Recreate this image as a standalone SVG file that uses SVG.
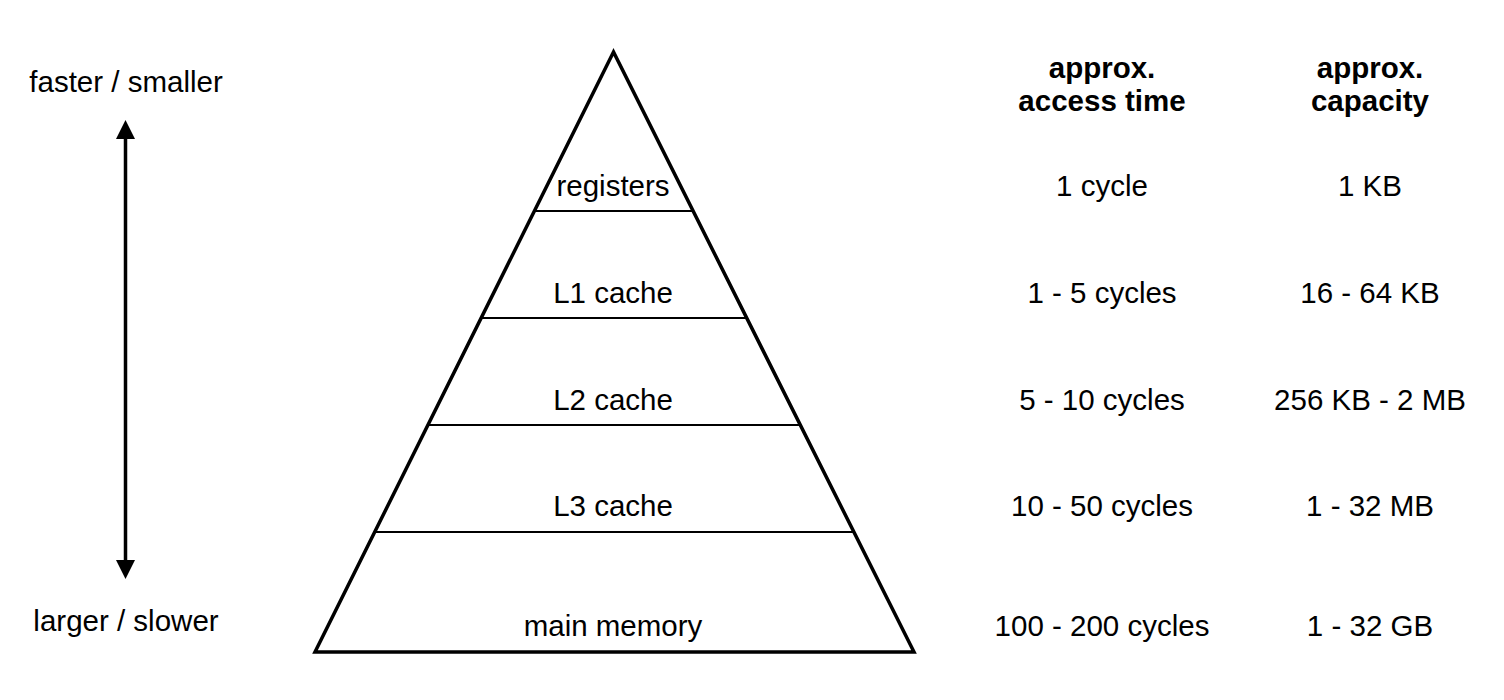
<svg xmlns="http://www.w3.org/2000/svg" width="1504" height="700" viewBox="0 0 1504 700">
<style>
  text { font-family: "Liberation Sans", Arial, Helvetica, sans-serif; font-size: 29.5px; fill: #000; text-anchor: middle; }
  .hdr { font-weight: bold; }
  .outline { fill: #fff; stroke: #000; stroke-width: 3.5; stroke-linejoin: miter; }
  .level { stroke: #000; stroke-width: 2; fill: none; }
  .arrow { stroke: #000; stroke-width: 3.5; fill: none; }
</style>
<defs>
  <marker id="ah" viewBox="0 0 19 19" refX="1" refY="9.5" markerWidth="19" markerHeight="19" markerUnits="userSpaceOnUse" orient="auto-start-reverse">
    <path d="M0,0 L19,9.5 L0,19 Z" fill="#000"/>
  </marker>
</defs>
<rect width="1504" height="700" fill="#fff"/>
<g id="pyramid">
  <polygon class="outline" points="613.5,52 315,652 914,652"/>
  <line class="level" x1="534" y1="211" x2="693" y2="211"/>
  <line class="level" x1="481" y1="318" x2="746" y2="318"/>
  <line class="level" x1="428" y1="425" x2="800" y2="425"/>
  <line class="level" x1="374.5" y1="532" x2="853.5" y2="532"/>
</g>
<g id="registers"><text x="613" y="196">registers</text></g>
<g id="l1"><text x="613" y="303">L1 cache</text></g>
<g id="l2"><text x="613" y="410">L2 cache</text></g>
<g id="l3"><text x="613" y="516">L3 cache</text></g>
<g id="main-memory"><text x="613" y="636">main memory</text></g>
<g id="col-access">
  <text class="hdr" x="1102" y="78">approx.</text>
  <text class="hdr" x="1102" y="111">access time</text>
  <text x="1102" y="196">1 cycle</text>
  <text x="1102" y="303">1 - 5 cycles</text>
  <text x="1102" y="410">5 - 10 cycles</text>
  <text x="1102" y="516">10 - 50 cycles</text>
  <text x="1102" y="636">100 - 200 cycles</text>
</g>
<g id="col-capacity">
  <text class="hdr" x="1370" y="78">approx.</text>
  <text class="hdr" x="1370" y="111">capacity</text>
  <text x="1370" y="196">1 KB</text>
  <text x="1370" y="303">16 - 64 KB</text>
  <text x="1370" y="410">256 KB - 2 MB</text>
  <text x="1370" y="516">1 - 32 MB</text>
  <text x="1370" y="636">1 - 32 GB</text>
</g>
<g id="label-top"><text x="126" y="92">faster / smaller</text></g>
<g id="label-bottom"><text x="126" y="631">larger / slower</text></g>
<g id="connectors">
  <line class="arrow" x1="125.5" y1="138" x2="125.5" y2="561" marker-start="url(#ah)" marker-end="url(#ah)"/>
</g>
</svg>
